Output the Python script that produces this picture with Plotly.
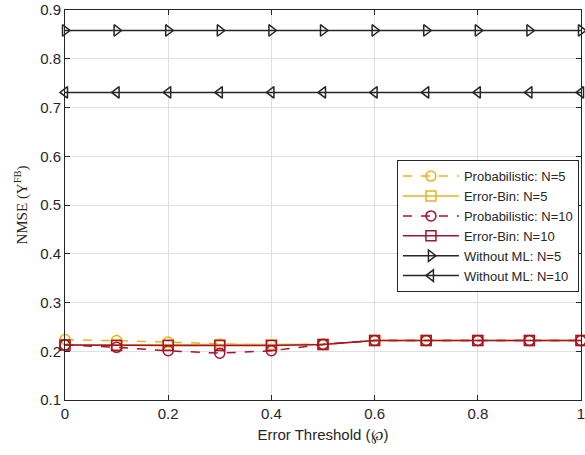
import plotly.graph_objects as go

x = [0, 0.1, 0.2, 0.3, 0.4, 0.5, 0.6, 0.7, 0.8, 0.9, 1.0]
prob_n5 = [0.224, 0.222, 0.219, 0.215, 0.213, 0.215, 0.222, 0.222, 0.222, 0.222, 0.222]
bin_n5 = [0.213, 0.213, 0.213, 0.213, 0.213, 0.214, 0.222, 0.222, 0.222, 0.222, 0.222]
prob_n10 = [0.213, 0.208, 0.201, 0.196, 0.201, 0.214, 0.222, 0.222, 0.222, 0.222, 0.222]
bin_n10 = [0.213, 0.212, 0.212, 0.212, 0.212, 0.214, 0.222, 0.222, 0.222, 0.222, 0.222]
noml_n5 = [0.858] * 11
noml_n10 = [0.731] * 11

YEL = "#EDB120"
RED = "#A2142F"
BLK = "#262626"

series = [
    ("Probabilistic: N=5", prob_n5, YEL, "dash", "circle-open"),
    ("Error-Bin: N=5", bin_n5, YEL, "solid", "square-open"),
    ("Probabilistic: N=10", prob_n10, RED, "dash", "circle-open"),
    ("Error-Bin: N=10", bin_n10, RED, "solid", "square-open"),
    ("Without ML: N=5", noml_n5, BLK, "solid", "triangle-right-open"),
    ("Without ML: N=10", noml_n10, BLK, "solid", "triangle-left-open"),
]

fig = go.Figure()
for name, y, c, dash, sym in series:
    fig.add_trace(go.Scatter(
        x=x, y=y, name=name, mode="lines+markers",
        line=dict(color=c, width=1.5, dash=dash),
        marker=dict(symbol=sym, size=10, color=c, line=dict(width=1.5, color=c)),
        cliponaxis=False,
    ))

axis_common = dict(
    showline=True, linecolor=BLK, linewidth=1, mirror="ticks",
    ticks="inside", ticklen=5, tickcolor=BLK,
    showgrid=True, gridcolor="#DFDFDF", gridwidth=1,
    zeroline=False,
    tickfont=dict(family="Liberation Sans, Arial", size=15, color=BLK),
)

fig.update_layout(
    width=585, height=455,
    margin=dict(l=65, r=0, t=10, b=55),
    paper_bgcolor="white", plot_bgcolor="white",
    xaxis=dict(range=[0, 1], tickvals=[0, 0.2, 0.4, 0.6, 0.8, 1],
               ticktext=["0", "0.2", "0.4", "0.6", "0.8", "1"],
               ticklabeloverflow="allow",
               title=dict(text="Error Threshold (℘)", standoff=8,
                          font=dict(family="Liberation Sans, Arial", size=15, color=BLK)),
               **axis_common),
    yaxis=dict(range=[0.1, 0.9], tickvals=[0.1, 0.2, 0.3, 0.4, 0.5, 0.6, 0.7, 0.8, 0.9],
               tickformat=".1f",
               title=dict(text="NMSE (Υ<sup>FB</sup>)", standoff=8,
                          font=dict(family="Liberation Serif, Times New Roman", size=15, color=BLK)),
               **axis_common),
    legend=dict(x=0.996, y=0.615, xanchor="right", yanchor="top",
                bgcolor="white", bordercolor=BLK, borderwidth=1,
                font=dict(family="Liberation Sans, Arial", size=13, color=BLK),
                tracegroupgap=0, itemwidth=56),
    showlegend=True,
)

fig.write_html("out.html")
